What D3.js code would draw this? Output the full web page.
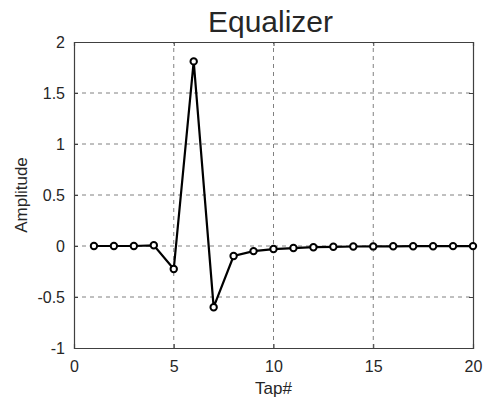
<!DOCTYPE html>
<html><head><meta charset="utf-8">
<script src="https://cdn.jsdelivr.net/npm/d3@7/dist/d3.min.js"></script>
<style>body{margin:0;background:#fff}svg{display:block}text{font-family:"Liberation Sans",Arial,sans-serif;fill:#262626}</style>
</head><body>
<script>
const taps = [1,2,3,4,5,6,7,8,9,10,11,12,13,14,15,16,17,18,19,20];
const amplitude = [0,0,0,0.007,-0.226,1.81,-0.60,-0.098,-0.05,-0.03,-0.02,-0.012,-0.008,-0.005,-0.004,-0.003,-0.002,-0.002,-0.001,-0.001];
const xTicks = [0,5,10,15,20];
const yTicks = [-1,-0.5,0,0.5,1,1.5,2];
const title = "Equalizer", xLabel = "Tap#", yLabel = "Amplitude";

const W=483,H=400, m={l:74,r:10,t:42,b:52};
const svg=d3.select("body").append("svg").attr("width",W).attr("height",H);
const x=d3.scaleLinear().domain([0,20]).range([m.l,W-m.r]);
const y=d3.scaleLinear().domain([-1,2]).range([H-m.b,m.t]);

const g=svg.append("g");
// grid
g.selectAll(".gx").data(xTicks.slice(1,-1)).join("line")
 .attr("x1",d=>x(d)).attr("x2",d=>x(d)).attr("y1",y(-1)).attr("y2",y(2))
 .attr("stroke","#808080").attr("stroke-width",1).attr("stroke-dasharray","4,4");
g.selectAll(".gy").data(yTicks.slice(1,-1)).join("line")
 .attr("y1",d=>y(d)).attr("y2",d=>y(d)).attr("x1",x(0)).attr("x2",x(20))
 .attr("stroke","#808080").attr("stroke-width",1).attr("stroke-dasharray","4,4");

// axes
const xa=svg.append("g").attr("transform",`translate(0,${y(-1)})`)
 .call(d3.axisBottom(x).tickValues(xTicks).tickSize(-4).tickPadding(10).tickFormat(d3.format("d")));
const xt=svg.append("g").attr("transform",`translate(0,${y(2)})`)
 .call(d3.axisTop(x).tickValues(xTicks).tickSize(-4).tickFormat(""));
const ya=svg.append("g").attr("transform",`translate(${x(0)},0)`)
 .call(d3.axisLeft(y).tickValues(yTicks).tickSize(-4).tickPadding(9).tickFormat(d=>String(d)));
const yr=svg.append("g").attr("transform",`translate(${x(20)},0)`)
 .call(d3.axisRight(y).tickValues(yTicks).tickSize(-4).tickFormat(""));
[xa,xt,ya,yr].forEach(a=>{a.select(".domain").attr("stroke","#404040").attr("stroke-width",1.2);
 a.selectAll(".tick line").attr("stroke","#404040");
 a.selectAll("text").attr("font-size",16).attr("fill","#262626").style("font-family",'"Liberation Sans",Arial,sans-serif');});
xa.selectAll("text").attr("dy","0.9em");

// line
const pts=taps.map((t,i)=>[t,amplitude[i]]);
svg.append("path").datum(pts).attr("fill","none").attr("stroke","#000").attr("stroke-width",2.2)
 .attr("d",d3.line().x(d=>x(d[0])).y(d=>y(d[1])));
svg.selectAll(".pt").data(pts).join("circle")
 .attr("cx",d=>x(d[0])).attr("cy",d=>y(d[1])).attr("r",3.2)
 .attr("fill","#fff").attr("stroke","#000").attr("stroke-width",2);

// labels
svg.append("text").attr("x",(x(0)+x(20))/2-3).attr("y",32).attr("text-anchor","middle").attr("font-size",30).text(title);
svg.append("text").attr("x",(x(0)+x(20))/2).attr("y",394).attr("text-anchor","middle").attr("font-size",17).text(xLabel);
svg.append("text").attr("transform",`translate(27,${(y(-1)+y(2))/2}) rotate(-90)`).attr("text-anchor","middle").attr("font-size",17).text(yLabel);
</script>
</body></html>
